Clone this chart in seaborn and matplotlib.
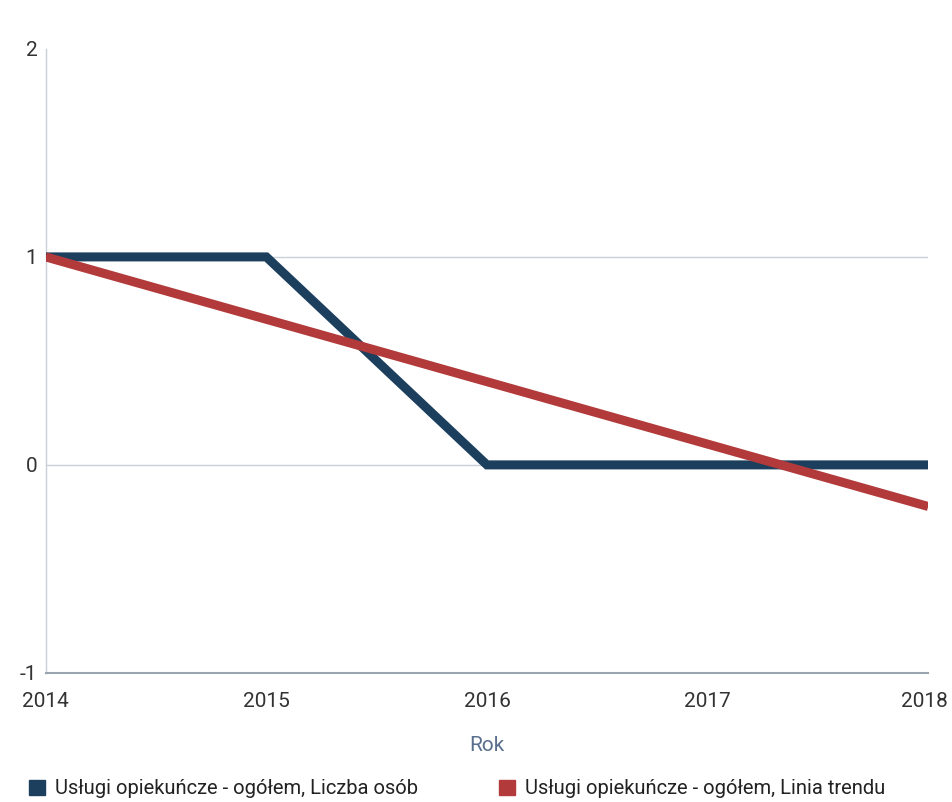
import matplotlib
matplotlib.use("Agg")
import matplotlib.pyplot as plt
import matplotlib.transforms as mtransforms
import seaborn as sns
import pandas as pd
from matplotlib.patches import Patch

years = [2014, 2015, 2016, 2017, 2018]
liczba_osob = [1, 1, 0, 0, 0]
linia_trendu = [1.0, 0.7, 0.4, 0.1, -0.2]
series_names = ["Usługi opiekuńcze - ogółem, Liczba osób",
                "Usługi opiekuńcze - ogółem, Linia trendu"]
colors = ["#1d3f5e", "#b23a3a"]
y_ticks = [-1, 0, 1, 2]

sns.set_theme(style="white")
plt.rcParams['font.family'] = ['Roboto', 'DejaVu Sans']

df = pd.DataFrame({
    "Rok": years * 2,
    "value": liczba_osob + linia_trendu,
    "series": [series_names[0]] * len(years) + [series_names[1]] * len(years),
})

fig = plt.figure(figsize=(9.52, 8.02), dpi=100)
ax = fig.add_axes([0.048, 0.161, 0.927, 0.778])

sns.lineplot(data=df, x="Rok", y="value", hue="series", palette=colors,
             linewidth=6.5, ax=ax, legend=False, zorder=3,
             solid_capstyle="butt", solid_joinstyle="miter")

ax.set_xlim(2014, 2018)
ax.set_ylim(-1, 2)
ax.set_yticks(y_ticks)
ax.set_yticklabels([str(t) for t in y_ticks])
ax.set_xticks(years)
ax.set_xticklabels([str(y) for y in years])
for t in [0, 1]:
    ax.axhline(t, color="#c8d0da", linewidth=1, zorder=1)

for s in ["top", "right"]:
    ax.spines[s].set_visible(False)
ax.spines["left"].set_color("#c8d0da")
ax.spines["bottom"].set_color("#9aa4b0")
ax.spines["left"].set_linewidth(1)
ax.spines["bottom"].set_linewidth(1.5)

ax.tick_params(axis="y", labelsize=15, colors="#333333", length=0, pad=6)
ax.tick_params(axis="x", labelsize=15, colors="#333333", length=0, pad=14)

last = ax.get_xticklabels()[-1]
last.set_transform(last.get_transform() +
                   mtransforms.ScaledTranslation(-4 / 100, 0, fig.dpi_scale_trans))

ax.set_xlabel("Rok", fontsize=15, color="#5a6f8e", labelpad=18)
ax.set_ylabel("")

handles = [Patch(facecolor=c, edgecolor=c) for c in colors]
fig.legend(handles, series_names, loc="lower center", bbox_to_anchor=(0.48, -0.018),
           ncol=2, frameon=False, fontsize=14.5, handlelength=0.8, handleheight=0.8,
           columnspacing=4, handletextpad=0.5, labelcolor="#222222")

fig.savefig("out.png", dpi=100)
